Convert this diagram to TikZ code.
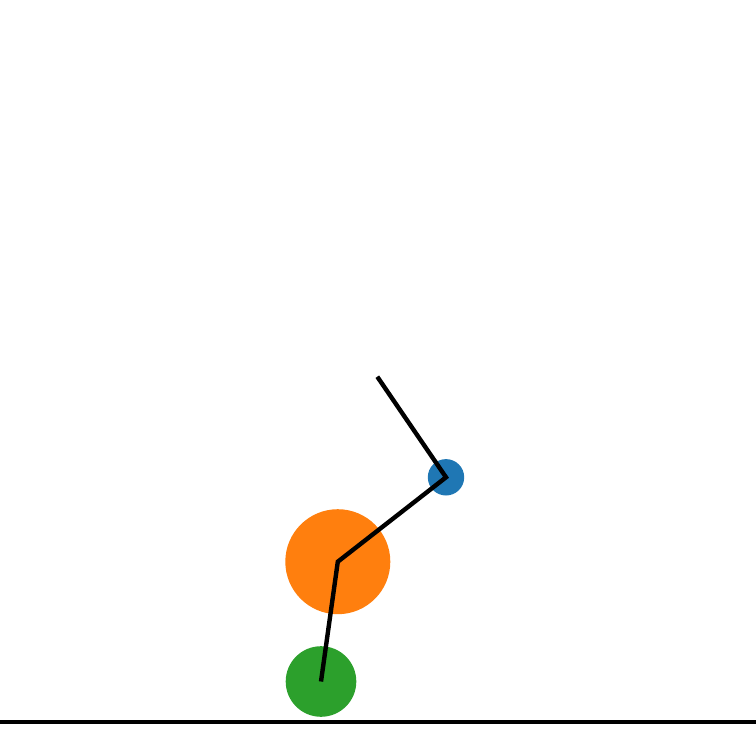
\documentclass[tikz,border=0pt]{standalone}
\usepackage{tikz}
\usetikzlibrary{positioning}
\definecolor{tabblue}{HTML}{1F77B4}
\definecolor{taborange}{HTML}{FF7F0E}
\definecolor{tabgreen}{HTML}{2CA02C}

\begin{document}
\begin{tikzpicture}[x=1pt, y=-1pt,
  mass/.style={circle, inner sep=0pt, draw=none},
  link/.style={line width=4.4pt, black, line join=miter}]
  \useasboundingbox (0,0) rectangle (756,756);
  % Ground
  \coordinate (gl) at (0,722);
  \coordinate (gr) at (756,722);
  \draw[line width=4pt] (gl) -- (gr);
  % Joints
  \coordinate (foot) at (321,681.5);
  \coordinate (hip) at (337.8,561.7);
  \coordinate (hand) at (446,477.3);
  \coordinate (tip) at (377.3,376.7);
  % Masses
  \node[mass, fill=tabgreen, minimum size=70.6pt] (wheel) at (foot) {};
  \node[mass, fill=taborange, minimum size=105pt] (body) at (hip) {};
  \node[mass, fill=tabblue, minimum size=36.4pt] (bob) at (hand) {};
  % Links
  \draw[link] (foot) -- (hip) -- (hand) -- (tip);
\end{tikzpicture}
\end{document}
